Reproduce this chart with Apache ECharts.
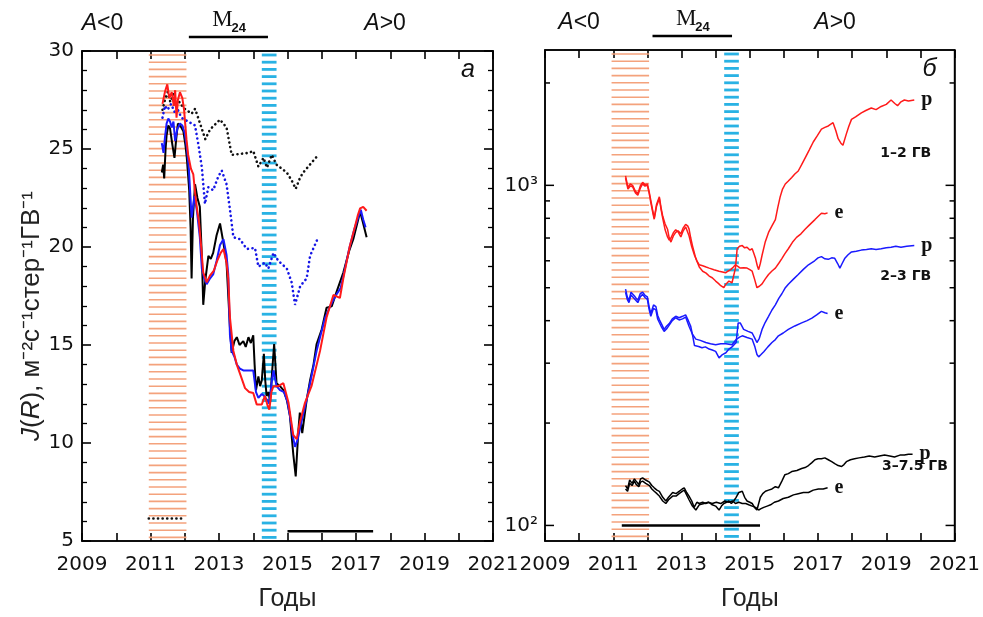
<!DOCTYPE html>
<html>
<head>
<meta charset="utf-8">
<script src="https://cdn.jsdelivr.net/npm/echarts@6/dist/echarts.min.js"></script>
<style>
  html, body { margin: 0; padding: 0; background: #fff; }
  #chart { width: 983px; height: 617px; }
</style>
</head>
<body>
<div id="chart"></div>
<script>
// axis ranges
const xMin = 2009
const xMax = 2021
const leftYMin = 5
const leftYMax = 30
const rightYMin = 90
const rightYMax = 2500
const logTickVals = [100, 200, 300, 400, 500, 600, 700, 800, 900, 1000, 2000]

// shaded periods and markers (years)
const orangeBand = [2010.95, 2012.05]
const cyanBand = [2014.25, 2014.68]
const leftM24 = [2012.12, 2014.43]
const rightM24 = [2012.15, 2014.48]
const leftSignYears = [2009.6, 2017.85]
const rightSignYears = [2010.0, 2017.5]
const leftDotMark = [[2010.95, 6.15], [2011.95, 6.15]]
const leftBar = [[2015.0, 5.5], [2017.5, 5.5]]
const rightBar = [[2011.25, 100], [2015.3, 100]]

// panel a
const leftBlackDotted = [[2011.35, 27.0], [2011.42, 27.5], [2011.5, 27.9], [2011.58, 27.4], [2011.67, 27.8], [2011.76, 27.3], [2011.85, 27.4], [2011.96, 27.1], [2012.2, 26.8], [2012.3, 27.05], [2012.4, 26.55], [2012.6, 25.5], [2012.74, 26.0], [2013.03, 26.5], [2013.22, 26.1], [2013.37, 24.7], [2013.86, 24.8], [2014.0, 24.9], [2014.15, 24.1], [2014.3, 24.55], [2014.4, 24.05], [2014.54, 24.7], [2014.68, 24.2], [2014.98, 23.8], [2015.12, 23.4], [2015.24, 22.97], [2015.37, 23.55], [2015.46, 23.8], [2015.7, 24.3], [2015.9, 24.7]]
const leftBlueDotted = [[2011.35, 26.6], [2011.42, 27.2], [2011.5, 27.0], [2011.6, 27.3], [2011.7, 26.9], [2011.8, 27.0], [2011.9, 26.6], [2012.0, 26.5], [2012.1, 26.4], [2012.3, 26.2], [2012.4, 25.2], [2012.5, 24.05], [2012.59, 22.2], [2012.69, 23.05], [2012.83, 22.9], [2012.98, 23.6], [2013.08, 23.9], [2013.22, 23.2], [2013.32, 21.9], [2013.42, 20.5], [2013.61, 20.4], [2013.81, 19.9], [2014.05, 19.95], [2014.15, 19.0], [2014.34, 19.2], [2014.44, 18.9], [2014.59, 19.7], [2014.73, 19.3], [2014.98, 18.9], [2015.12, 18.2], [2015.22, 17.05], [2015.37, 18.0], [2015.56, 18.4], [2015.66, 19.55], [2015.9, 20.5]]
const leftBlackSolid = [[2011.33, 23.8], [2011.37, 24.2], [2011.4, 23.5], [2011.44, 25.0], [2011.47, 25.7], [2011.52, 26.2], [2011.57, 26.05], [2011.64, 25.2], [2011.7, 24.55], [2011.75, 25.5], [2011.8, 26.3], [2011.84, 26.2], [2011.9, 26.1], [2011.96, 25.9], [2012.02, 25.2], [2012.06, 24.55], [2012.13, 22.9], [2012.17, 21.0], [2012.2, 18.4], [2012.24, 21.5], [2012.3, 23.2], [2012.37, 22.5], [2012.44, 22.05], [2012.5, 19.5], [2012.54, 17.05], [2012.6, 18.3], [2012.69, 19.55], [2012.76, 19.4], [2012.83, 19.7], [2012.93, 20.6], [2013.03, 21.2], [2013.13, 20.2], [2013.22, 19.2], [2013.27, 19.2], [2013.32, 15.9], [2013.37, 14.6], [2013.45, 15.2], [2013.52, 15.4], [2013.6, 15.0], [2013.71, 15.2], [2013.78, 14.9], [2013.86, 15.4], [2013.93, 15.1], [2014.0, 15.5], [2014.04, 14.0], [2014.08, 12.7], [2014.15, 13.4], [2014.2, 12.9], [2014.25, 13.2], [2014.31, 14.55], [2014.35, 13.2], [2014.39, 12.4], [2014.45, 12.6], [2014.49, 12.05], [2014.55, 13.6], [2014.61, 15.05], [2014.68, 13.05], [2014.78, 12.9], [2014.88, 12.7], [2014.98, 12.2], [2015.07, 11.4], [2015.17, 9.4], [2015.24, 8.3], [2015.32, 10.7], [2015.36, 11.55], [2015.43, 10.5], [2015.56, 12.2], [2015.66, 13.2], [2015.76, 14.0], [2015.85, 15.05], [2016.0, 15.8], [2016.14, 16.9], [2016.29, 16.97], [2016.43, 17.7], [2016.63, 18.7], [2016.8, 19.8], [2016.92, 20.4], [2017.05, 21.3], [2017.12, 21.8], [2017.21, 21.2], [2017.31, 20.5]]
const leftBlueSolid = [[2011.33, 25.3], [2011.38, 24.8], [2011.42, 25.55], [2011.47, 26.3], [2011.52, 26.55], [2011.57, 26.4], [2011.62, 26.1], [2011.67, 26.4], [2011.72, 25.4], [2011.78, 26.0], [2011.86, 26.3], [2011.93, 26.2], [2012.0, 25.8], [2012.06, 25.1], [2012.12, 24.0], [2012.2, 21.5], [2012.28, 22.6], [2012.35, 21.9], [2012.44, 20.5], [2012.5, 18.9], [2012.57, 18.4], [2012.64, 18.1], [2012.74, 18.4], [2012.83, 18.6], [2012.93, 19.3], [2013.03, 20.1], [2013.13, 20.4], [2013.22, 19.6], [2013.27, 18.6], [2013.32, 15.5], [2013.37, 14.7], [2013.45, 14.4], [2013.52, 14.0], [2013.61, 13.8], [2013.71, 13.7], [2013.85, 13.7], [2014.0, 13.7], [2014.08, 12.6], [2014.15, 12.3], [2014.25, 12.5], [2014.32, 12.4], [2014.4, 12.2], [2014.47, 12.0], [2014.53, 13.0], [2014.59, 13.7], [2014.68, 12.9], [2014.78, 12.7], [2014.9, 12.6], [2015.0, 12.1], [2015.07, 11.4], [2015.15, 10.4], [2015.22, 9.8], [2015.3, 10.2], [2015.36, 10.7], [2015.45, 11.4], [2015.56, 12.2], [2015.7, 13.4], [2015.85, 14.7], [2015.98, 15.6], [2016.1, 16.4], [2016.25, 17.0], [2016.4, 17.5], [2016.55, 17.9], [2016.63, 18.5], [2016.8, 19.9], [2016.95, 20.9], [2017.08, 21.6], [2017.14, 21.9], [2017.21, 21.4], [2017.28, 21.0]]
const leftRedSolid = [[2011.35, 27.3], [2011.42, 27.9], [2011.49, 28.3], [2011.55, 27.6], [2011.62, 27.9], [2011.68, 27.2], [2011.72, 28.0], [2011.76, 26.6], [2011.8, 27.5], [2011.86, 27.9], [2011.93, 27.6], [2011.98, 27.0], [2012.05, 25.5], [2012.1, 24.7], [2012.18, 24.0], [2012.25, 23.7], [2012.3, 22.8], [2012.35, 22.05], [2012.42, 21.2], [2012.48, 20.0], [2012.54, 18.7], [2012.64, 18.2], [2012.74, 18.55], [2012.85, 18.8], [2012.95, 19.3], [2013.05, 19.7], [2013.13, 19.9], [2013.22, 19.2], [2013.27, 18.4], [2013.32, 16.4], [2013.42, 14.7], [2013.52, 14.0], [2013.61, 13.55], [2013.76, 12.8], [2013.88, 12.6], [2014.0, 12.55], [2014.1, 11.97], [2014.25, 11.97], [2014.34, 12.4], [2014.42, 11.9], [2014.47, 11.7], [2014.53, 12.6], [2014.59, 12.9], [2014.73, 12.9], [2014.88, 13.05], [2015.03, 12.05], [2015.1, 11.2], [2015.17, 10.4], [2015.27, 10.2], [2015.36, 11.05], [2015.51, 12.05], [2015.7, 12.9], [2015.95, 14.7], [2016.14, 16.4], [2016.34, 17.55], [2016.53, 17.4], [2016.63, 18.4], [2016.82, 20.05], [2016.95, 20.9], [2017.05, 21.6], [2017.12, 21.97], [2017.21, 22.05], [2017.31, 21.85]]

// panel b
const rightRedP = [[2011.36, 1066], [2011.43, 986], [2011.5, 1010], [2011.57, 998], [2011.65, 960], [2011.72, 944], [2011.8, 1000], [2011.86, 1020], [2011.93, 1005], [2012.0, 1010], [2012.05, 960], [2012.1, 903], [2012.15, 850], [2012.2, 801], [2012.27, 880], [2012.35, 925], [2012.4, 860], [2012.45, 811], [2012.52, 770], [2012.59, 743], [2012.64, 700], [2012.69, 681], [2012.76, 710], [2012.83, 727], [2012.9, 735], [2012.98, 720], [2013.05, 750], [2013.12, 768], [2013.18, 760], [2013.22, 745], [2013.27, 700], [2013.32, 665], [2013.42, 609], [2013.52, 575], [2013.62, 559], [2013.72, 552], [2013.81, 541], [2013.9, 535], [2014.0, 523], [2014.08, 515], [2014.15, 507], [2014.24, 500], [2014.3, 512], [2014.39, 523], [2014.48, 517], [2014.58, 571], [2014.63, 651], [2014.7, 662], [2014.78, 665], [2014.85, 655], [2014.92, 658], [2015.0, 645], [2015.07, 651], [2015.12, 630], [2015.17, 609], [2015.22, 580], [2015.26, 565], [2015.31, 590], [2015.36, 623], [2015.45, 680], [2015.55, 727], [2015.65, 760], [2015.75, 793], [2015.82, 860], [2015.89, 925], [2015.96, 975], [2016.04, 1009], [2016.13, 1030], [2016.23, 1055], [2016.32, 1080], [2016.42, 1102], [2016.52, 1150], [2016.62, 1203], [2016.74, 1270], [2016.86, 1341], [2016.98, 1400], [2017.1, 1463], [2017.2, 1480], [2017.3, 1495], [2017.44, 1528], [2017.52, 1450], [2017.59, 1371], [2017.67, 1330], [2017.73, 1312], [2017.83, 1417], [2017.9, 1490], [2017.98, 1563], [2018.1, 1590], [2018.27, 1634], [2018.4, 1660], [2018.56, 1688], [2018.7, 1670], [2018.85, 1706], [2019.0, 1730], [2019.14, 1782], [2019.25, 1740], [2019.33, 1715], [2019.43, 1760], [2019.53, 1782], [2019.65, 1770], [2019.82, 1782]]
const rightRedE = [[2011.36, 1050], [2011.43, 975], [2011.5, 995], [2011.57, 990], [2011.65, 950], [2011.72, 935], [2011.8, 985], [2011.86, 1010], [2011.93, 995], [2012.0, 1000], [2012.05, 950], [2012.1, 890], [2012.15, 840], [2012.2, 795], [2012.27, 870], [2012.35, 915], [2012.4, 850], [2012.45, 800], [2012.52, 740], [2012.59, 705], [2012.64, 690], [2012.69, 700], [2012.76, 725], [2012.83, 740], [2012.9, 730], [2012.98, 705], [2013.05, 735], [2013.12, 755], [2013.22, 711], [2013.3, 660], [2013.38, 623], [2013.45, 600], [2013.52, 584], [2013.62, 580], [2013.72, 575], [2013.81, 571], [2013.95, 565], [2014.1, 559], [2014.2, 556], [2014.29, 553], [2014.37, 560], [2014.44, 565], [2014.52, 575], [2014.58, 584], [2014.65, 578], [2014.72, 571], [2014.82, 572], [2014.92, 571], [2015.0, 565], [2015.07, 559], [2015.14, 530], [2015.21, 500], [2015.28, 505], [2015.36, 513], [2015.45, 530], [2015.55, 547], [2015.65, 560], [2015.75, 571], [2015.85, 590], [2015.94, 609], [2016.03, 630], [2016.13, 651], [2016.25, 680], [2016.37, 703], [2016.5, 720], [2016.62, 743], [2016.75, 765], [2016.91, 793], [2017.0, 810], [2017.1, 828], [2017.2, 825], [2017.28, 830]]
const rightBlueP = [[2011.36, 495], [2011.41, 470], [2011.46, 459], [2011.52, 485], [2011.57, 480], [2011.64, 470], [2011.72, 459], [2011.79, 480], [2011.86, 485], [2011.93, 475], [2012.0, 470], [2012.05, 440], [2012.1, 420], [2012.18, 445], [2012.25, 440], [2012.3, 415], [2012.35, 403], [2012.42, 390], [2012.49, 377], [2012.56, 385], [2012.64, 392], [2012.73, 405], [2012.83, 412], [2012.93, 408], [2013.03, 412], [2013.12, 416], [2013.2, 400], [2013.27, 385], [2013.33, 360], [2013.38, 338], [2013.5, 336], [2013.6, 333], [2013.7, 335], [2013.81, 330], [2013.9, 328], [2014.0, 325], [2014.05, 318], [2014.1, 311], [2014.2, 318], [2014.3, 322], [2014.39, 330], [2014.48, 335], [2014.6, 345], [2014.66, 394], [2014.72, 394], [2014.82, 377], [2014.95, 372], [2015.07, 368], [2015.15, 355], [2015.21, 345], [2015.28, 355], [2015.36, 377], [2015.45, 395], [2015.55, 412], [2015.65, 430], [2015.75, 445], [2015.85, 465], [2015.94, 480], [2016.03, 498], [2016.13, 512], [2016.28, 530], [2016.42, 547], [2016.57, 566], [2016.72, 584], [2016.9, 600], [2017.0, 612], [2017.1, 617], [2017.2, 608], [2017.3, 606], [2017.4, 612], [2017.49, 610], [2017.57, 590], [2017.64, 571], [2017.71, 590], [2017.78, 609], [2017.88, 625], [2017.98, 637], [2018.12, 640], [2018.27, 645], [2018.42, 648], [2018.56, 651], [2018.7, 648], [2018.85, 651], [2019.0, 655], [2019.14, 658], [2019.28, 662], [2019.43, 658], [2019.6, 662], [2019.82, 665]]
const rightBlueE = [[2011.36, 485], [2011.41, 462], [2011.46, 452], [2011.52, 476], [2011.57, 470], [2011.64, 462], [2011.72, 452], [2011.79, 470], [2011.86, 478], [2011.93, 468], [2012.0, 462], [2012.05, 432], [2012.1, 412], [2012.18, 435], [2012.25, 430], [2012.3, 405], [2012.35, 395], [2012.42, 382], [2012.49, 372], [2012.56, 378], [2012.64, 388], [2012.73, 400], [2012.83, 408], [2012.93, 402], [2013.03, 405], [2013.12, 410], [2013.22, 385], [2013.32, 365], [2013.42, 353], [2013.55, 350], [2013.71, 345], [2013.85, 342], [2014.0, 340], [2014.15, 342], [2014.3, 342], [2014.48, 340], [2014.6, 352], [2014.7, 358], [2014.78, 361], [2014.92, 357], [2015.07, 353], [2015.15, 335], [2015.21, 318], [2015.26, 313], [2015.33, 318], [2015.41, 324], [2015.53, 335], [2015.65, 345], [2015.75, 352], [2015.84, 361], [2015.98, 368], [2016.13, 377], [2016.32, 386], [2016.52, 394], [2016.68, 400], [2016.82, 407], [2016.96, 416], [2017.1, 426], [2017.2, 422], [2017.28, 420]]
const rightBlackP = [[2011.36, 131], [2011.42, 128], [2011.48, 136], [2011.55, 133], [2011.62, 137], [2011.67, 135], [2011.75, 132], [2011.8, 137], [2011.86, 138], [2011.95, 136], [2012.06, 134], [2012.13, 131], [2012.2, 129], [2012.28, 127], [2012.35, 126], [2012.45, 121], [2012.54, 118], [2012.62, 121], [2012.74, 125], [2012.84, 124], [2012.93, 126], [2013.02, 128], [2013.08, 129], [2013.15, 125], [2013.22, 122], [2013.3, 118], [2013.37, 113], [2013.45, 117], [2013.52, 116], [2013.62, 117], [2013.71, 116], [2013.8, 117], [2013.9, 115], [2014.0, 114], [2014.1, 111], [2014.17, 114], [2014.24, 116], [2014.32, 117], [2014.39, 118], [2014.46, 116], [2014.53, 118], [2014.6, 121], [2014.68, 125], [2014.78, 126], [2014.85, 121], [2014.92, 118], [2015.0, 117], [2015.07, 116], [2015.14, 113], [2015.21, 111], [2015.31, 121], [2015.38, 124], [2015.46, 126], [2015.55, 127], [2015.65, 128], [2015.75, 130], [2015.84, 129], [2015.94, 135], [2016.03, 141], [2016.13, 142], [2016.23, 144], [2016.38, 145], [2016.52, 147], [2016.62, 148], [2016.72, 150], [2016.82, 153], [2016.91, 156], [2017.0, 157], [2017.1, 157], [2017.2, 158], [2017.3, 156], [2017.4, 154], [2017.49, 152], [2017.59, 150], [2017.69, 149], [2017.76, 151], [2017.83, 154], [2017.95, 156], [2018.07, 157], [2018.2, 158], [2018.36, 159], [2018.5, 160], [2018.66, 159], [2018.8, 160], [2018.95, 161], [2019.1, 160], [2019.24, 159], [2019.4, 161], [2019.53, 161], [2019.65, 162], [2019.77, 162]]
const rightBlackE = [[2011.36, 128], [2011.42, 126], [2011.48, 133], [2011.55, 131], [2011.62, 135], [2011.67, 132], [2011.75, 130], [2011.8, 134], [2011.86, 135], [2011.95, 133], [2012.06, 131], [2012.13, 128], [2012.2, 126], [2012.28, 124], [2012.35, 122], [2012.45, 118], [2012.54, 116], [2012.62, 119], [2012.74, 122], [2012.84, 122], [2012.93, 124], [2013.02, 126], [2013.08, 127], [2013.15, 123], [2013.22, 119], [2013.32, 114], [2013.42, 111], [2013.52, 115], [2013.66, 116], [2013.78, 117], [2013.9, 116], [2014.02, 117], [2014.15, 116], [2014.27, 118], [2014.39, 117], [2014.5, 118], [2014.58, 116], [2014.68, 117], [2014.78, 116], [2014.88, 116], [2014.97, 115], [2015.07, 114], [2015.17, 113], [2015.26, 111], [2015.33, 112], [2015.41, 113], [2015.51, 114], [2015.61, 115], [2015.72, 117], [2015.84, 118], [2015.98, 120], [2016.13, 121], [2016.28, 123], [2016.42, 124], [2016.57, 125], [2016.72, 125], [2016.86, 127], [2017.01, 128], [2017.15, 128], [2017.28, 129]]
const rangeLabels = ['1\u20132 ГВ', '2\u20133 ГВ', '3\u20137.5 ГВ']
const rangeLabelPos = [[2019.57, 1242], [2019.57, 540], [2019.84, 149]]

const numFont = 'DejaVu Sans'
const textFont = 'Liberation Sans'
const sup = { 2: '\u00b2', 3: '\u00b3' }

const chart = echarts.init(document.getElementById('chart'))

const xAxes = (gridIndex) => {
  const base = {
    type: 'value',
    gridIndex,
    min: xMin,
    max: xMax,
    interval: 1,
    splitLine: { show: false },
    axisLine: { lineStyle: { color: '#000', width: 1.5 } },
    axisTick: { show: true, inside: true, length: 8, lineStyle: { color: '#000', width: 1.6 } }
  }
  return [
    {
      ...base,
      position: 'bottom',
      name: 'Годы',
      nameLocation: 'middle',
      nameGap: 46,
      nameTextStyle: { fontFamily: textFont, fontSize: 25, color: '#222' },
      axisLabel: {
        margin: 14,
        fontFamily: numFont,
        fontSize: 20,
        color: '#111',
        formatter: v => (v % 2 === 1 ? String(v) : '')
      }
    },
    { ...base, position: 'top', axisLabel: { show: false } }
  ]
}

const leftY = {
  type: 'value',
  gridIndex: 0,
  min: leftYMin,
  max: leftYMax,
  interval: 5,
  splitLine: { show: false },
  axisLine: { lineStyle: { color: '#000', width: 1.5 } },
  axisTick: { show: true, inside: true, length: 9, lineStyle: { color: '#000', width: 1.6 } },
  minorTick: { show: true, splitNumber: 5, length: 5, lineStyle: { color: '#000', width: 1.3 } },
  minorSplitLine: { show: false }
}

// hatched band drawn as horizontal strokes across the period
const bandSeries = (gi, band, yLo, yHi, color, lw) => ({
  type: 'custom',
  xAxisIndex: gi * 2,
  yAxisIndex: gi * 2,
  silent: true,
  z: 1,
  encode: { x: [0, 1] },
  data: [band],
  renderItem: (params, api) => {
    const a = api.coord([api.value(0), yHi])
    const b = api.coord([api.value(1), yLo])
    const children = []
    for (let y = a[1] + 4; y < b[1] - 1; y += 7.2) {
      children.push({
        type: 'line',
        shape: { x1: a[0], y1: y, x2: b[0], y2: y },
        style: { stroke: color, lineWidth: lw }
      })
    }
    return { type: 'group', children }
  }
})

const notesSeries = (gi, bar, signYears, yHi, letter) => ({
  type: 'custom',
  xAxisIndex: gi * 2,
  yAxisIndex: gi * 2,
  silent: true,
  clip: false,
  z: 5,
  encode: { x: [0, 1] },
  data: [bar],
  renderItem: (params, api) => {
    const a = api.coord([api.value(0), yHi])
    const b = api.coord([api.value(1), yHi])
    const top = a[1]
    const mid = (a[0] + b[0]) / 2
    const corner = api.coord([xMax, yHi])
    const children = [
      { type: 'line', shape: { x1: a[0], y1: top - 14, x2: b[0], y2: top - 14 }, style: { stroke: '#000', lineWidth: 2.5 } },
      { type: 'text', x: mid - 6, y: top - 20, style: { text: 'M', font: '23px "Liberation Serif"', fill: '#111', align: 'center', verticalAlign: 'bottom' } },
      { type: 'text', x: mid + 3, y: top - 16, style: { text: '24', font: 'bold 13px "Liberation Sans"', fill: '#111', align: 'left', verticalAlign: 'bottom' } },
      { type: 'text', x: corner[0] - 25, y: corner[1] + 19, style: { text: letter, font: 'italic 25px "Liberation Sans"', fill: '#111', align: 'center', verticalAlign: 'middle' } }
    ]
    signYears.forEach((yr, i) => {
      children.push({
        type: 'text',
        x: api.coord([yr, yHi])[0],
        y: top - 27,
        style: {
          text: i === 0 ? '{i|A}<0' : '{i|A}>0',
          font: '23px "Liberation Sans"',
          fill: '#111',
          align: 'center',
          verticalAlign: 'middle',
          rich: { i: { fontStyle: 'italic', fontSize: 23, fontFamily: 'Liberation Sans', fill: '#111' } }
        }
      })
    })
    return { type: 'group', children }
  }
})

const line = (data, gi, color, width, dotted, label) => ({
  type: 'line',
  xAxisIndex: gi * 2,
  yAxisIndex: gi * 2,
  data,
  symbol: 'none',
  z: 3,
  lineStyle: dotted
    ? { color, width: 2.6, type: [0.1, 4.5], cap: 'round' }
    : { color, width },
  endLabel: label
    ? { show: true, formatter: label, distance: 7, fontFamily: 'Liberation Serif', fontWeight: 'bold', fontSize: 20, color: '#111' }
    : { show: false }
})

chart.setOption({
  animation: false,
  backgroundColor: '#fff',
  grid: [
    { left: 82, top: 51, width: 411, height: 501, show: true, borderColor: '#000', borderWidth: 1.5 },
    { left: 545, top: 50, width: 412, height: 502, show: true, borderColor: '#000', borderWidth: 1.5 }
  ],
  xAxis: [...xAxes(0), ...xAxes(1)],
  yAxis: [
    {
      ...leftY,
      position: 'left',
      name: '{i|J}({i|R}), м\u207b\u00b2с\u207b\u00b9стер\u207b\u00b9ГВ\u207b\u00b9',
      nameLocation: 'middle',
      nameGap: 36,
      nameRotate: 90,
      nameTextStyle: {
        fontFamily: textFont,
        fontSize: 26,
        color: '#222',
        padding: [0, 40, 0, 0],
        rich: { i: { fontFamily: textFont, fontSize: 26, fontStyle: 'italic', color: '#222' } }
      },
      axisLabel: { margin: 8, fontFamily: numFont, fontSize: 20, color: '#111' }
    },
    { ...leftY, position: 'right', axisLabel: { show: false } },
    {
      type: 'log',
      gridIndex: 1,
      min: rightYMin,
      max: rightYMax,
      position: 'left',
      splitLine: { show: false },
      axisLine: { lineStyle: { color: '#000', width: 1.5 } },
      axisTick: { show: false },
      axisLabel: {
        margin: 7,
        fontFamily: numFont,
        fontSize: 20,
        color: '#111',
        showMinLabel: false,
        showMaxLabel: false,
        formatter: v => {
          const l = Math.log10(v)
          const r = Math.round(l)
          return Math.abs(l - r) < 1e-6 && sup[r] ? '10' + sup[r] : ''
        }
      }
    },
    {
      type: 'log',
      gridIndex: 1,
      min: rightYMin,
      max: rightYMax,
      position: 'right',
      splitLine: { show: false },
      axisLine: { lineStyle: { color: '#000', width: 1.5 } },
      axisTick: { show: false },
      axisLabel: { show: false }
    }
  ],
  series: [
    bandSeries(0, orangeBand, leftYMin, leftYMax, '#f4a27c', 1.6),
    bandSeries(0, cyanBand, leftYMin, leftYMax, '#29b2e4', 2.8),
    bandSeries(1, orangeBand, rightYMin, rightYMax, '#f4a27c', 1.6),
    bandSeries(1, cyanBand, rightYMin, rightYMax, '#29b2e4', 2.8),
    // log-axis ticks on both sides of panel b
    {
      type: 'custom',
      xAxisIndex: 2,
      yAxisIndex: 2,
      silent: true,
      z: 4,
      encode: { y: 0 },
      data: logTickVals.map(v => [v]),
      renderItem: (params, api) => {
        const v = api.value(0)
        const l = Math.log10(v)
        const len = Math.abs(l - Math.round(l)) < 1e-6 ? 9 : 5
        const p0 = api.coord([xMin, v])
        const p1 = api.coord([xMax, v])
        return {
          type: 'group',
          children: [
            { type: 'line', shape: { x1: p0[0], y1: p0[1], x2: p0[0] + len, y2: p0[1] }, style: { stroke: '#000', lineWidth: 1.5 } },
            { type: 'line', shape: { x1: p1[0] - len, y1: p1[1], x2: p1[0], y2: p1[1] }, style: { stroke: '#000', lineWidth: 1.5 } }
          ]
        }
      }
    },
    notesSeries(0, leftM24, leftSignYears, leftYMax, 'a'),
    notesSeries(1, rightM24, rightSignYears, rightYMax, 'б'),
    // panel a
    line(leftBlackDotted, 0, '#111', 2, true),
    line(leftBlueDotted, 0, '#1515e6', 2, true),
    line(leftBlackSolid, 0, '#000', 2),
    line(leftBlueSolid, 0, '#1a1aff', 2),
    line(leftRedSolid, 0, '#ff1a1a', 2),
    line(leftDotMark, 0, '#111', 2, true),
    line(leftBar, 0, '#000', 2.5),
    // panel b
    line(rightRedP, 1, '#ff1a1a', 1.5, false, 'p'),
    line(rightRedE, 1, '#ff1a1a', 1.5, false, 'e'),
    line(rightBlueP, 1, '#1a1aff', 1.5, false, 'p'),
    line(rightBlueE, 1, '#1a1aff', 1.5, false, 'e'),
    line(rightBlackP, 1, '#000', 1.5, false, 'p'),
    line(rightBlackE, 1, '#000', 1.5, false, 'e'),
    line(rightBar, 1, '#000', 2.5),
    {
      type: 'custom',
      xAxisIndex: 2,
      yAxisIndex: 2,
      silent: true,
      z: 5,
      data: rangeLabelPos,
      renderItem: (params, api) => {
        const p = api.coord([api.value(0), api.value(1)])
        return {
          type: 'text',
          x: p[0],
          y: p[1],
          style: { text: rangeLabels[params.dataIndex], font: 'bold 14px "DejaVu Sans"', fill: '#111', align: 'center', verticalAlign: 'middle' }
        }
      }
    }
  ]
})
</script>
</body>
</html>
